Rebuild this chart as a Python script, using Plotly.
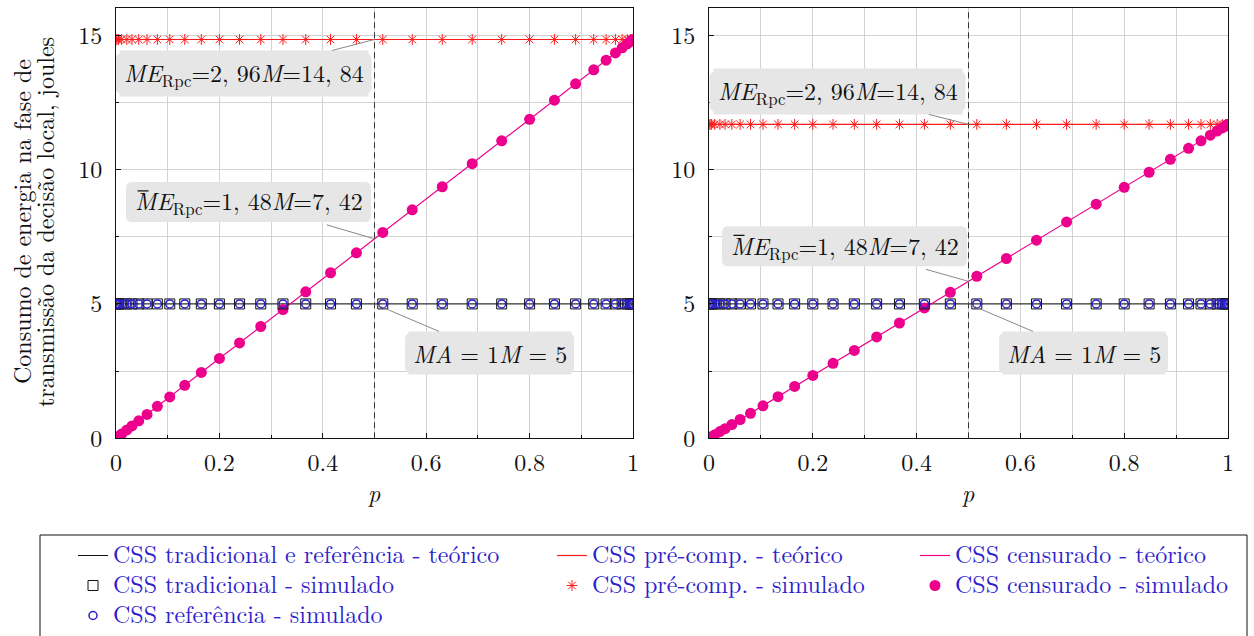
import plotly.graph_objects as go

# probabilidade de censura p usada nas simulações
p_sim = [0.0, 0.002, 0.005, 0.011, 0.021, 0.031, 0.044, 0.060, 0.080, 0.104,
         0.133, 0.165, 0.200, 0.239, 0.280, 0.323, 0.367, 0.415, 0.465, 0.516,
         0.573, 0.631, 0.689, 0.746, 0.800, 0.848, 0.889, 0.924, 0.948, 0.966,
         0.979, 0.989, 0.995, 0.998, 1.0]

# energia (joules) - CSS tradicional / referência
tradicional_sim = [5.0] * len(p_sim)
referencia_sim = [5.0] * len(p_sim)

# energia (joules) - CSS pré-comp., painel esquerdo e direito
precomp_sim_esq = [14.84] * len(p_sim)
precomp_sim_dir = [11.68] * len(p_sim)

# energia (joules) - CSS censurado, painel esquerdo
censurado_sim_esq = [0.00, 0.03, 0.07, 0.16, 0.31, 0.46, 0.65, 0.89, 1.19, 1.54,
                     1.97, 2.45, 2.97, 3.55, 4.16, 4.79, 5.45, 6.16, 6.90, 7.66,
                     8.50, 9.36, 10.22, 11.07, 11.87, 12.58, 13.19, 13.71, 14.07, 14.34,
                     14.53, 14.68, 14.77, 14.81, 14.84]
# energia (joules) - CSS censurado, painel direito
censurado_sim_dir = [0.00, 0.02, 0.06, 0.13, 0.25, 0.36, 0.51, 0.70, 0.93, 1.21,
                     1.55, 1.93, 2.34, 2.79, 3.27, 3.77, 4.29, 4.85, 5.43, 6.03,
                     6.69, 7.37, 8.05, 8.71, 9.34, 9.90, 10.38, 10.79, 11.07, 11.28,
                     11.43, 11.55, 11.62, 11.66, 11.68]

# curvas teóricas (extremos p = 0 e p = 1)
p_teo = [0.0, 1.0]
tradicional_teo = [5.0, 5.0]
precomp_teo_esq = [14.84, 14.84]
precomp_teo_dir = [11.68, 11.68]
censurado_teo_esq = [0.0, 14.84]
censurado_teo_dir = [0.0, 11.68]

# pontos anotados em p = 0.5
p_nota = 0.5
nota_esq = [14.84, 7.42, 5.0]
nota_dir = [11.68, 5.84, 5.0]
textos_nota = ["<i>ME</i><sub>Rpc</sub>=2, 96<i>M</i>=14, 84",
               "<i>ME</i><sub>Rpc</sub>=1, 48<i>M</i>=7, 42",
               "<i>MA</i> = 1<i>M</i> = 5"]

nomes = ["CSS tradicional e referência - teórico",
         "CSS tradicional - simulado",
         "CSS referência - simulado",
         "CSS pré-comp. - teórico",
         "CSS pré-comp. - simulado",
         "CSS censurado - teórico",
         "CSS censurado - simulado"]

FONTE = "Latin Modern Roman"
AZUL_TXT = "#2f1fcc"
PRETO = "#111111"
VERMELHO = "#ff1a1a"
MAGENTA = "#ec008c"
GRADE = "#d2d2d2"
CAIXA = "#e6e6e6"
TAM = 24


def rotulo(txt):
    return f'<span style="font-size:{TAM}px">{txt}</span>'


def caixa_arredondada(cx, cy, lx, ly, r):
    """Caminho SVG de um retângulo de cantos arredondados (pixels, y para cima)."""
    x0, x1 = cx - lx / 2, cx + lx / 2
    y0, y1 = cy - ly / 2, cy + ly / 2
    return (f"M {x0 + r},{y0} L {x1 - r},{y0} Q {x1},{y0} {x1},{y0 + r} "
            f"L {x1},{y1 - r} Q {x1},{y1} {x1 - r},{y1} L {x0 + r},{y1} "
            f"Q {x0},{y1} {x0},{y1 - r} L {x0},{y0 + r} Q {x0},{y0} {x0 + r},{y0} Z")


W, H = 1254, 636
fig = go.Figure()

paineis = [
    ("x", "y", precomp_teo_esq, precomp_sim_esq, censurado_teo_esq, censurado_sim_esq, True),
    ("x2", "y2", precomp_teo_dir, precomp_sim_dir, censurado_teo_dir, censurado_sim_dir, False),
]

for xa, ya, pre_teo, pre_sim, cen_teo, cen_sim, leg in paineis:
    fig.add_trace(go.Scatter(x=p_teo, y=tradicional_teo, mode="lines", xaxis=xa, yaxis=ya,
                             line=dict(color=PRETO, width=1), name=rotulo(nomes[0]),
                             legend="legend", legendgroup="a", showlegend=leg, legendrank=1))
    fig.add_trace(go.Scatter(x=p_teo, y=pre_teo, mode="lines", xaxis=xa, yaxis=ya,
                             line=dict(color=VERMELHO, width=1.2), name=rotulo(nomes[3]),
                             legend="legend2", legendgroup="d", showlegend=leg, legendrank=1))
    fig.add_trace(go.Scatter(x=p_teo, y=cen_teo, mode="lines", xaxis=xa, yaxis=ya,
                             line=dict(color=MAGENTA, width=1.2), name=rotulo(nomes[5]),
                             legend="legend3", legendgroup="f", showlegend=leg, legendrank=1))
    fig.add_trace(go.Scatter(x=p_sim, y=pre_sim, mode="markers", xaxis=xa, yaxis=ya,
                             marker=dict(symbol="asterisk-open", size=9, color=VERMELHO,
                                         line=dict(color=VERMELHO, width=1)),
                             name=rotulo(nomes[4]), legend="legend2", legendgroup="e",
                             showlegend=leg, legendrank=2))
    fig.add_trace(go.Scatter(x=p_sim, y=cen_sim, mode="markers", xaxis=xa, yaxis=ya,
                             marker=dict(symbol="circle", size=11, color=MAGENTA,
                                         line=dict(width=0)),
                             name=rotulo(nomes[6]), legend="legend3", legendgroup="g",
                             showlegend=leg, legendrank=2))
    fig.add_trace(go.Scatter(x=p_sim, y=tradicional_sim, mode="markers", xaxis=xa, yaxis=ya,
                             marker=dict(symbol="square-open", size=10, color=PRETO,
                                         line=dict(color=PRETO, width=1)),
                             name=rotulo(nomes[1]), legend="legend", legendgroup="b",
                             showlegend=leg, legendrank=2))
    fig.add_trace(go.Scatter(x=p_sim, y=referencia_sim, mode="markers", xaxis=xa, yaxis=ya,
                             marker=dict(symbol="circle-open", size=8, color="#2a1fc8",
                                         line=dict(color="#2a1fc8", width=1.5)),
                             name=rotulo(nomes[2]), legend="legend", legendgroup="c",
                             showlegend=leg, legendrank=3))

# geometria dos painéis (pixels)
esq = (116, 633)
dir_ = (709, 1228)
topo, base = 8.3, 438.3
ydom = [(H - base) / H, (H - topo) / H]

eixo_x = dict(range=[0, 1], dtick=0.2, tick0=0, showgrid=True, gridcolor=GRADE, gridwidth=1,
              minor=dict(dtick=0.1, showgrid=True, gridcolor=GRADE, gridwidth=1,
                         ticks="inside", ticklen=3, tickcolor=PRETO),
              ticks="inside", ticklen=5, tickcolor=PRETO, ticklabelstandoff=3,
              showline=True, linecolor=PRETO, linewidth=1, mirror=True, zeroline=False,
              tickfont=dict(family=FONTE, size=TAM, color=PRETO))
eixo_y = dict(range=[0, 16], dtick=5, tick0=0, showgrid=True, gridcolor=GRADE, gridwidth=1,
              minor=dict(dtick=2.5, showgrid=True, gridcolor=GRADE, gridwidth=1,
                         ticks="inside", ticklen=3, tickcolor=PRETO),
              ticks="inside", ticklen=5, tickcolor=PRETO, ticklabelstandoff=8,
              showline=True, linecolor=PRETO, linewidth=1, mirror=True, zeroline=False,
              tickfont=dict(family=FONTE, size=TAM, color=PRETO))

fig.update_layout(
    width=W, height=H,
    font=dict(family=FONTE),
    margin=dict(l=0, r=0, t=0, b=0, autoexpand=False),
    paper_bgcolor="white", plot_bgcolor="white",
    xaxis=dict(eixo_x, domain=[esq[0] / W, esq[1] / W], anchor="y", automargin=False),
    yaxis=dict(eixo_y, domain=ydom, anchor="x", automargin=False),
    xaxis2=dict(eixo_x, domain=[dir_[0] / W, dir_[1] / W], anchor="y2", automargin=False),
    yaxis2=dict(eixo_y, domain=ydom, anchor="x2", automargin=False),
    showlegend=True,
)

# legenda em três colunas; o tamanho base fixa o espaçamento entre linhas
leg_base = dict(orientation="v", yanchor="top", xanchor="left", y=(H - 536) / H,
                bgcolor="rgba(0,0,0,0)", borderwidth=0, tracegroupgap=1,
                font=dict(family=FONTE, size=20, color=AZUL_TXT), itemwidth=30)
fig.update_layout(
    legend=dict(leg_base, x=73 / W),
    legend2=dict(leg_base, x=552 / W),
    legend3=dict(leg_base, x=915 / W),
)

# moldura da legenda
fig.add_shape(type="rect", xref="paper", yref="paper", x0=40 / W, x1=1247 / W,
              y0=-0.05, y1=(H - 535) / H, line=dict(color=PRETO, width=1))

# linha tracejada em p = 0.5
for xa in ["x", "x2"]:
    fig.add_shape(type="line", xref=xa, yref=("y" if xa == "x" else "y2") + " domain",
                  x0=p_nota, x1=p_nota, y0=0, y1=1,
                  line=dict(color="#333333", width=1, dash="6px,4px"))

# caixas de anotação: deslocamento do centro (px) e tamanho da caixa (px)
desloc = [(-131, 34), (-126, -37), (115, 49)]
desloc_dir = [(-131, -33), (-124, -35), (115, 49)]
tamanhos = [(256, 40), (245, 40), (169, 40)]
for (xa, ya, valores, offs) in [("x", "y", nota_esq, desloc), ("x2", "y2", nota_dir, desloc_dir)]:
    for i, (txt, v, (ax, ay), (lx, ly)) in enumerate(zip(textos_nota, valores, offs, tamanhos)):
        fig.add_shape(type="path", xref=xa, yref=ya, xsizemode="pixel", ysizemode="pixel",
                      xanchor=p_nota, yanchor=v, layer="above",
                      path=caixa_arredondada(ax, -ay, lx, ly, 6),
                      fillcolor=CAIXA, line=dict(width=0))
        if i == 1:
            # barra sobre o M (média); o fundo desta caixa vem só da forma arredondada
            fig.add_shape(type="line", xref=xa, yref=ya, xsizemode="pixel", ysizemode="pixel",
                          xanchor=p_nota, yanchor=v, layer="above",
                          x0=ax - 111, x1=ax - 100, y0=-ay + 11, y1=-ay + 11,
                          line=dict(color=PRETO, width=1.2))
        fig.add_annotation(x=p_nota, y=v, xref=xa, yref=ya, text=txt,
                           showarrow=True, arrowhead=0, arrowwidth=1, arrowcolor="#888888",
                           ax=ax, ay=ay, bgcolor=("rgba(0,0,0,0)" if i == 1 else CAIXA),
                           borderpad=4, font=dict(family=FONTE, size=TAM, color=PRETO))

# títulos dos eixos
for cx in [(esq[0] + esq[1]) / 2, (dir_[0] + dir_[1]) / 2]:
    fig.add_annotation(x=cx / W, y=(H - 492) / H, xref="paper", yref="paper",
                       xanchor="center", yanchor="middle",
                       text="<i>p</i>", showarrow=False,
                       font=dict(family=FONTE, size=TAM, color=PRETO))
for cx, linha in [(21, "Consumo de energia na fase de"),
                  (44, "transmissão da decisão local, joules")]:
    fig.add_annotation(x=cx / W, y=(H - 222) / H, xref="paper", yref="paper",
                       xanchor="center", yanchor="middle", text=linha,
                       textangle=-90, showarrow=False,
                       font=dict(family=FONTE, size=TAM, color=PRETO))

fig.write_html("out.html")
